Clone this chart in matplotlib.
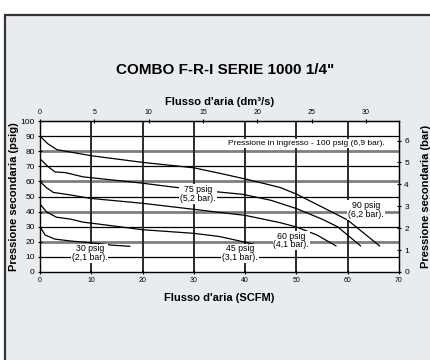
import matplotlib.pyplot as plt
from matplotlib.patches import Rectangle

plt.rcParams['font.family'] = ['Liberation Sans', 'DejaVu Sans']

# Curve data: secondary pressure (psig) vs air flow (SCFM), one per set pressure
flow_30 = [0, 1, 2.9, 6, 9.7, 14, 17.5]
psig_30 = [30, 24.5, 21.8, 20.5, 19.4, 17.8, 17.0]

flow_45 = [0, 1.2, 3.2, 6, 8.4, 12, 20, 30, 35, 40.3, 41.6]
psig_45 = [45, 40, 36.3, 35, 33, 31.5, 28, 25.6, 23.5, 19.5, 18.5]

flow_60 = [0, 1.2, 2.6, 6, 9.7, 20, 30, 35, 40, 46.8, 50, 54, 57.7]
psig_60 = [60, 56, 52.7, 51, 48.8, 45.5, 41.5, 39.5, 37.5, 32.7, 29.8, 24.5, 17.3]

flow_75 = [0, 1.5, 2.9, 5, 8.4, 19.5, 26.6, 33, 39.6, 45, 50, 55, 58, 62.5]
psig_75 = [75, 70, 66.3, 65.8, 63, 59, 56, 53.6, 51.4, 47.5, 42, 35, 30, 17.3]

flow_90 = [0, 1.5, 3.3, 10, 20, 30, 35, 40.3, 46.8, 50, 55, 60, 66.2]
psig_90 = [90, 85, 81, 77, 72.6, 69, 65.4, 61.4, 56, 51.6, 43, 34.4, 17.3]

labels = ["30 psig\n(2,1 bar).", "45 psig\n(3,1 bar).", "60 psig\n(4,1 bar).",
          "75 psig\n(5,2 bar).", "90 psig\n(6,2 bar)."]
label_x = [9.7, 39.0, 49.0, 30.8, 63.6]
label_y = [12.4, 12.4, 20.8, 51.6, 41.0]

inlet_label = "Pressione in ingresso - 100 psig (6,9 bar)."

PSI_PER_BAR = 14.5038
SCFM_TO_DMS = 0.4719

fig = plt.figure(figsize=(4.31, 3.6), dpi=100)
fig.patch.set_facecolor('white')
fig.patches.append(Rectangle((5 / 431, -0.1), 1.0, (360 - 15) / 360 + 0.1,
                             transform=fig.transFigure, facecolor='#e9ecef',
                             edgecolor='#333333', linewidth=1.6, zorder=-5))

ax = fig.add_axes([40 / 431, 88 / 360, 359 / 431, 151 / 360])
ax.set_facecolor('white')
ax.set_xlim(0, 70)
ax.set_ylim(0, 100)

# grid: odd tens black and thin, even tens grey and heavy
for v in range(10, 100, 10):
    if v % 20 == 0:
        ax.axhline(v, color='#7f7f7f', lw=2.0, zorder=1)
    else:
        ax.axhline(v, color='black', lw=0.9, zorder=1)
for v in range(10, 70, 10):
    ax.axvline(v, color='#2a2a2a', lw=1.4, zorder=1)

for fx, py in [(flow_30, psig_30), (flow_45, psig_45), (flow_60, psig_60),
               (flow_75, psig_75), (flow_90, psig_90)]:
    ax.plot(fx, py, color='black', lw=0.9, zorder=2)

box = dict(facecolor='white', edgecolor='none', pad=0.6)
for txt, x, y in zip(labels, label_x, label_y):
    ax.text(x, y, txt, ha='center', va='center', fontsize=6.3, linespacing=0.95,
            bbox=box, zorder=3)
ax.text(52, 85.2, inlet_label, ha='center', va='center', fontsize=6,
        bbox=box, zorder=3)

for s in ax.spines.values():
    s.set_linewidth(1.0)
    s.set_zorder(4)

ax.set_xticks(range(0, 71, 10))
ax.set_yticks(range(0, 101, 10))
ax.tick_params(direction='inout', length=3.5, width=0.8, labelsize=5, pad=2)
ax.tick_params(axis='y', labelsize=6)
ax.set_xlabel("Flusso d'aria (SCFM)", fontsize=8, fontweight='bold', labelpad=6)
ax.set_ylabel("Pressione secondaria (psig)", fontsize=8, fontweight='bold', labelpad=1)

top = ax.secondary_xaxis('top', functions=(lambda q: q * SCFM_TO_DMS,
                                           lambda q: q / SCFM_TO_DMS))
top.set_xticks(range(0, 31, 5))
top.tick_params(direction='inout', length=3.5, width=0.8, labelsize=5, pad=2)
top.set_xlabel("Flusso d'aria (dm³/s)", fontsize=8, fontweight='bold', labelpad=3)

right = ax.secondary_yaxis('right', functions=(lambda p: p / PSI_PER_BAR,
                                               lambda b: b * PSI_PER_BAR))
right.set_yticks(range(0, 7))
right.tick_params(direction='inout', length=3.5, width=0.8, labelsize=6, pad=2)
right.set_ylabel("Pressione secondaria (bar)", fontsize=8, fontweight='bold', labelpad=9)

fig.text(225 / 431, 1 - 70 / 360, 'COMBO F-R-I SERIE 1000 1/4"', ha='center',
         va='center', fontsize=11, fontweight='bold')

fig.savefig('out.png', dpi=100)
